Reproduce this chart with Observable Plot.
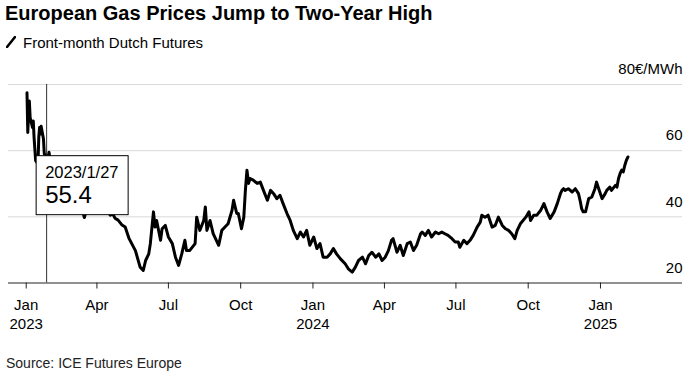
<!DOCTYPE html>
<html>
<head>
<meta charset="utf-8">
<script src="https://cdn.jsdelivr.net/npm/d3@7"></script>
<script src="https://cdn.jsdelivr.net/npm/@observablehq/plot@0.6"></script>
<style>
  html, body { margin: 0; padding: 0; background: #fff; }
  #wrap { position: relative; width: 693px; height: 378px; overflow: hidden; font-family: "Liberation Sans", Arial, sans-serif; color: #000; }
  .title { position: absolute; left: 5px; top: 3px; font-size: 20px; line-height: 20px; font-weight: bold; white-space: nowrap; }
  .subtitle { position: absolute; left: 6px; top: 34.6px; font-size: 15px; line-height: 15px; white-space: nowrap; display: flex; align-items: center; }
  .subtitle svg { margin-right: 7px; }
  .source { position: absolute; left: 6px; top: 356px; font-size: 14px; line-height: 14px; color: #222; white-space: nowrap; }
  #chart { position: absolute; left: 0; top: 56px; }
</style>
</head>
<body>
<div id="wrap">
  <div class="title">European Gas Prices Jump to Two-Year High</div>
  <div class="subtitle"><svg width="10" height="12" viewBox="0 0 10 12"><line x1="1" y1="11" x2="9" y2="1" stroke="#000" stroke-width="2.6" stroke-linecap="round"/></svg><span>Front-month Dutch Futures</span></div>
  <div id="chart"></div>
  <div class="source">Source: ICE Futures Europe</div>
</div>
<script>
const dates = [
"2023-01-02","2023-01-03","2023-01-04","2023-01-05","2023-01-06","2023-01-09","2023-01-10","2023-01-11","2023-01-12","2023-01-13",
"2023-01-16","2023-01-17","2023-01-18","2023-01-19","2023-01-20","2023-01-23","2023-01-24","2023-01-25","2023-01-26","2023-01-27",
"2023-01-30","2023-01-31","2023-02-02","2023-02-06","2023-02-09","2023-02-13","2023-02-16","2023-02-20","2023-02-23","2023-02-27",
"2023-03-02","2023-03-06","2023-03-09","2023-03-13","2023-03-16","2023-03-20","2023-03-23","2023-03-27","2023-03-30","2023-04-03",
"2023-04-06","2023-04-11","2023-04-14","2023-04-18","2023-04-21","2023-04-24","2023-04-28","2023-05-03","2023-05-07","2023-05-12",
"2023-05-20","2023-05-26","2023-05-30","2023-06-02","2023-06-06","2023-06-08","2023-06-12","2023-06-14","2023-06-16","2023-06-21",
"2023-06-23","2023-06-27","2023-07-01","2023-07-06","2023-07-10","2023-07-14","2023-07-18","2023-07-22","2023-07-24","2023-07-28",
"2023-08-04","2023-08-06","2023-08-10","2023-08-15","2023-08-17","2023-08-19","2023-08-23","2023-08-27","2023-09-03","2023-09-07",
"2023-09-11","2023-09-15","2023-09-20","2023-09-22","2023-09-26","2023-09-28","2023-10-02","2023-10-05","2023-10-07","2023-10-09",
"2023-10-11","2023-10-13","2023-10-17","2023-10-22","2023-10-26","2023-10-30","2023-11-04","2023-11-08","2023-11-12","2023-11-16",
"2023-11-20","2023-11-24","2023-11-29","2023-12-03","2023-12-07","2023-12-12","2023-12-16","2023-12-20","2023-12-24","2023-12-28",
"2024-01-02","2024-01-06","2024-01-10","2024-01-14","2024-01-19","2024-01-23","2024-01-27","2024-01-31","2024-02-05","2024-02-11",
"2024-02-15","2024-02-20","2024-02-24","2024-02-28","2024-03-04","2024-03-08","2024-03-12","2024-03-16","2024-03-21","2024-03-25",
"2024-03-29","2024-04-02","2024-04-06","2024-04-10","2024-04-12","2024-04-17","2024-04-21","2024-04-25","2024-04-30","2024-05-04",
"2024-05-08","2024-05-12","2024-05-17","2024-05-19","2024-05-23","2024-05-27","2024-05-31","2024-06-05","2024-06-09","2024-06-13",
"2024-06-17","2024-06-21","2024-06-26","2024-06-30","2024-07-04","2024-07-06","2024-07-11","2024-07-15","2024-07-19","2024-07-23",
"2024-07-28","2024-08-01","2024-08-03","2024-08-07","2024-08-11","2024-08-16","2024-08-20","2024-08-24","2024-08-29","2024-09-02",
"2024-09-06","2024-09-10","2024-09-14","2024-09-17","2024-09-21","2024-09-28","2024-10-02","2024-10-04","2024-10-08","2024-10-12",
"2024-10-17","2024-10-21","2024-10-25","2024-10-29","2024-11-03","2024-11-07","2024-11-11","2024-11-13","2024-11-15","2024-11-17",
"2024-11-21","2024-11-26","2024-11-30","2024-12-04","2024-12-06","2024-12-08","2024-12-10","2024-12-13","2024-12-15","2024-12-17",
"2024-12-21","2024-12-25","2024-12-27","2024-12-29","2025-01-03","2025-01-07","2025-01-09","2025-01-13","2025-01-15","2025-01-20",
"2025-01-22","2025-01-24","2025-01-26","2025-01-28","2025-01-30","2025-02-01","2025-02-03","2025-02-05"
];
const prices = [
77.5,65.5,71,75,70,67,69,64,60.5,57,
56,64,67,65,67.4,63.5,59,58.9,57,55.4,
59.5,58,56,54,52.5,53.5,50.5,51,48.5,49,
47,46,44,42.5,39.8,43,41.5,44,46,45.5,
43,41.5,42,40.5,41,39.6,39,37.5,36.9,33.4,
29.8,24.8,23.8,26.8,28.8,31.9,41.5,36.9,38.9,32.9,
36.4,37.4,33.9,31.9,27.8,25.3,28.8,32.9,29.8,29.8,
31.9,39.9,35.9,38.9,43,35.9,38.9,34.9,31.4,35.9,
36.9,37.9,42,45,41,41,36.4,39.9,48,54.1,
50.1,51.6,51.1,50.1,50.5,48,45,48,47,45.5,
46.5,44,41,38.9,35.9,33.4,35.4,33.9,35.9,31.4,
33.9,30.4,31.9,27.8,27.8,28.8,30.4,28.8,27.3,25.8,
24.3,23.3,24.8,26.8,27.8,25.8,28.3,29.3,27.8,28.8,
26.8,27.8,29.8,32.9,33.4,29.3,31.4,28.3,31.9,32.4,
29.8,31.4,34.9,35.4,34.4,35.9,33.9,35.4,34.9,35.4,
34.9,34.4,33.4,32.4,32.4,30.8,32.9,31.9,32.9,34.4,
36.9,38.4,40.5,39.9,40.5,36.9,37.4,39.9,37.4,36.4,
35.9,34.9,33.4,35.9,37.9,39.9,41.5,38.9,40.5,40.5,
42,44,41.5,39.5,41.5,44,47,48,48.5,48,
48.5,47.5,48.5,47,45,42.5,41.5,41.5,43.5,45.5,
46,48.5,50.5,49,45.5,47,48,49,48,49.5,
49,51.6,53.1,54.1,53.6,55.6,57.1,58.1
];

const yTicks = [20, 40, 60, 80];
const yTickLabels = ["20", "40", "60", "80€/MWh"];
const gridValues = [40, 60, 80];
const xTicks = ["2023-01-01","2023-04-01","2023-07-01","2023-10-01","2024-01-01","2024-04-01","2024-07-01","2024-10-01","2025-01-01"];
const xTickLabels = ["Jan\n2023","Apr","Jul","Oct","Jan\n2024","Apr","Jul","Oct","Jan\n2025"];
const xDomain = ["2022-12-09T11:00:00Z", "2025-04-15T10:00:00Z"];
const tipDate = "2023-01-27";
const tipLabel = "2023/1/27";
const tipValue = 55.4;

const data = dates.map((d, i) => ({date: new Date(d), price: prices[i]}));
const tickDates = xTicks.map(d => new Date(d));
const tipDateObj = new Date(tipDate);

const tooltip = (index, scales) => {
  const px = scales.x(tipDateObj), py = scales.y(tipValue);
  const g = d3.create("svg:g").attr("text-anchor", "start");
  g.append("rect").attr("x", px - 10).attr("y", py - 9.7).attr("width", 92).attr("height", 59)
    .attr("fill", "#fff").attr("stroke", "#000").attr("stroke-width", 1);
  g.append("text").attr("x", px - 1).attr("y", py + 12.5).attr("text-anchor", "start")
    .attr("font-size", 16.5).attr("fill", "#000").text(tipLabel);
  g.append("text").attr("x", px - 1).attr("y", py + 37.5).attr("text-anchor", "start")
    .attr("font-size", 24).attr("fill", "#000").text(String(tipValue));
  return g.node();
};

const chart = Plot.plot({
  width: 693,
  height: 300,
  marginTop: 28,
  marginBottom: 73.5,
  marginLeft: 8,
  marginRight: 11,
  style: {fontFamily: "'Liberation Sans', Arial, sans-serif", color: "#000", background: "transparent", overflow: "visible"},
  x: {type: "utc", domain: xDomain.map(d => new Date(d))},
  y: {domain: [20, 80], axis: null},
  marks: [
    Plot.ruleY(gridValues, {stroke: "#d9d9d9", strokeWidth: 1}),
    Plot.ruleY([20], {stroke: "#222", strokeWidth: 1}),
    Plot.axisX(tickDates, {
      tickSize: 6, tickPadding: 8, fontSize: 15, lineHeight: 1.25, stroke: "#222",
      tickFormat: d => xTickLabels[tickDates.findIndex(t => +t === +d)]
    }),
    Plot.text(yTicks, {y: d => d, text: (d, i) => yTickLabels[i], frameAnchor: "right", textAnchor: "end", dy: -15, fontSize: 15, fill: "#000"}),
    Plot.ruleX([tipDateObj], {y1: 20, y2: 80, stroke: "#333", strokeWidth: 1}),
    Plot.line(data, {x: "date", y: "price", stroke: "#000", strokeWidth: 3, strokeLinejoin: "round", strokeLinecap: "round"}),
    tooltip
  ]
});
document.getElementById("chart").appendChild(chart);
</script>
</body>
</html>
